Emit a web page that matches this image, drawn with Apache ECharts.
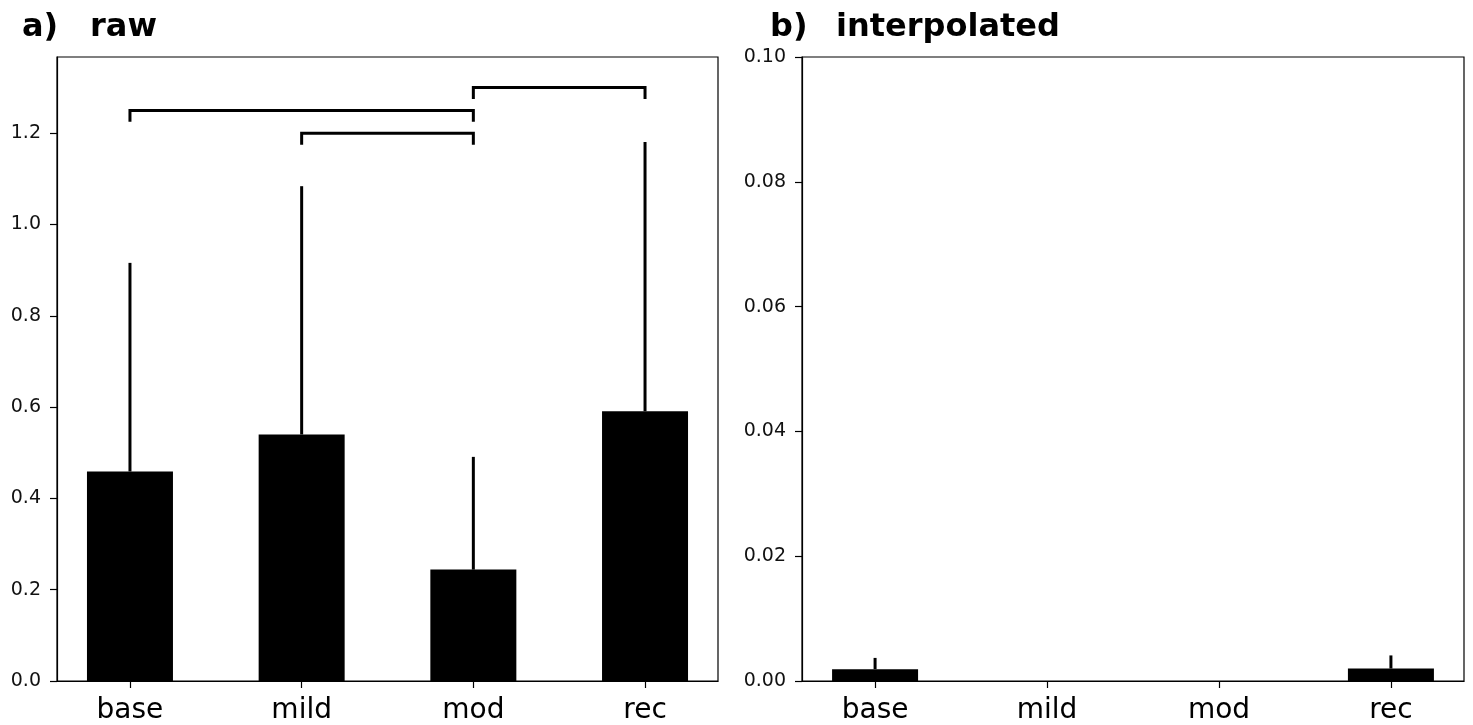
<!DOCTYPE html>
<html>
<head>
<meta charset="utf-8">
<script src="https://cdn.jsdelivr.net/npm/echarts@6/dist/echarts.min.js"></script>
<style>
html,body{margin:0;padding:0;background:#fff;}
#chart{width:1473px;height:725px;}
</style>
</head>
<body>
<div id="chart"></div>
<script>
// ---- data ----
const categories = ['base', 'mild', 'mod', 'rec'];
const rawMeans = [0.459, 0.540, 0.244, 0.591];
const rawErrTop = [0.916, 1.084, 0.491, 1.181];
const interpMeans = [0.0019, 0.0, 0.0, 0.0020];
const interpErrTop = [0.0037, 0.0, 0.0, 0.0041];
// [from category index, to category index, height]
const rawBrackets = [[0, 2, 1.25], [1, 2, 1.20], [2, 3, 1.30]];
const bracketDrop = 0.025;
const rawTicks = [0, 0.2, 0.4, 0.6, 0.8, 1.0, 1.2];
const interpTicks = [0, 0.02, 0.04, 0.06, 0.08, 0.10];
const catIdx = [0, 1, 2, 3];

const FONT = 'DejaVu Sans';

function xAxisCfg(gridIndex) {
  return {
    type: 'value', gridIndex: gridIndex, min: -0.425, max: 3.425,
    splitLine: {show: false},
    axisLine: {show: true, onZero: false, lineStyle: {color: '#000', width: 1.2}},
    axisTick: {show: true, length: 7, customValues: catIdx, lineStyle: {color: '#000', width: 1.2}},
    axisLabel: {show: true, customValues: catIdx, margin: 16, fontFamily: FONT, fontSize: 28, color: '#000',
      formatter: v => categories[Math.round(v)]}
  };
}
function yAxisCfg(gridIndex, max, ticks, dec) {
  return {
    type: 'value', gridIndex: gridIndex, min: 0, max: max,
    splitLine: {show: false},
    axisLine: {show: true, onZero: false, lineStyle: {color: '#000', width: 1.2}},
    axisTick: {show: true, length: 7, customValues: ticks, lineStyle: {color: '#000', width: 1.2}},
    axisLabel: {show: true, customValues: ticks, margin: 16, fontFamily: FONT, fontSize: 19, color: '#111',
      formatter: v => Number(v).toFixed(dec)}
  };
}

function errSeries(idx, means, tops) {
  return {
    type: 'custom', xAxisIndex: idx, yAxisIndex: idx, z: 5,
    data: categories.map((c, i) => [i, means[i], tops[i]]),
    renderItem: function (params, api) {
      const lo = api.coord([api.value(0), api.value(1)]);
      const hi = api.coord([api.value(0), api.value(2)]);
      if (api.value(2) <= api.value(1)) return null;
      return {type: 'line', shape: {x1: lo[0], y1: lo[1], x2: hi[0], y2: hi[1]},
        style: {stroke: '#000', lineWidth: 3}};
    }
  };
}

const chart = echarts.init(document.getElementById('chart'), null, {renderer: 'canvas'});
chart.setOption({
  backgroundColor: '#fff',
  animation: false,
  graphic: [
    {type: 'text', left: 22, top: 12, style: {text: 'a)', font: 'bold 32px "DejaVu Sans"', fill: '#000'}},
    {type: 'text', left: 90, top: 12, style: {text: 'raw', font: 'bold 32px "DejaVu Sans"', fill: '#000'}},
    {type: 'text', left: 770, top: 12, style: {text: 'b)', font: 'bold 32px "DejaVu Sans"', fill: '#000'}},
    {type: 'text', left: 836, top: 12, style: {text: 'interpolated', font: 'bold 32px "DejaVu Sans"', fill: '#000'}}
  ],
  grid: [
    {left: 57, top: 57, width: 661, height: 625, show: true, borderColor: '#000', borderWidth: 1.2, backgroundColor: 'transparent'},
    {left: 802, top: 57, width: 662, height: 625, show: true, borderColor: '#000', borderWidth: 1.2, backgroundColor: 'transparent'}
  ],
  xAxis: [xAxisCfg(0), xAxisCfg(1)],
  yAxis: [yAxisCfg(0, 1.367, rawTicks, 1), yAxisCfg(1, 0.1, interpTicks, 2)],
  series: [
    {type: 'bar', xAxisIndex: 0, yAxisIndex: 0, barWidth: 86,
      data: rawMeans.map((v, i) => [i, v]),
      itemStyle: {color: '#000'}},
    errSeries(0, rawMeans, rawErrTop),
    {type: 'custom', xAxisIndex: 0, yAxisIndex: 0, z: 6,
      data: rawBrackets,
      renderItem: function (params, api) {
        const a = api.value(0), b = api.value(1), h = api.value(2);
        const p1 = api.coord([a, h - bracketDrop]);
        const p2 = api.coord([a, h]);
        const p3 = api.coord([b, h]);
        const p4 = api.coord([b, h - bracketDrop]);
        return {type: 'polyline', shape: {points: [p1, p2, p3, p4]},
          style: {stroke: '#000', lineWidth: 3, fill: null}};
      }},
    {type: 'bar', xAxisIndex: 1, yAxisIndex: 1, barWidth: 86,
      data: interpMeans.map((v, i) => [i, v]),
      itemStyle: {color: '#000'}},
    errSeries(1, interpMeans, interpErrTop)
  ]
});
</script>
</body>
</html>
